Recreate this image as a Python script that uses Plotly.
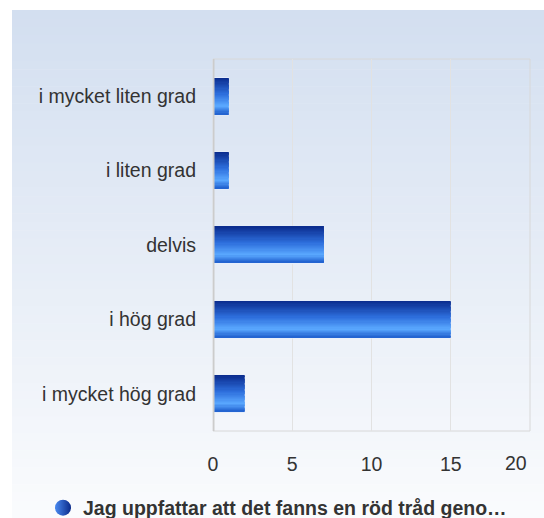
import plotly.graph_objects as go

categories = ["i mycket liten grad", "i liten grad", "delvis", "i hög grad", "i mycket hög grad"]
values = [1, 1, 7, 15, 2]
x_ticks = [0, 5, 10, 15, 20]
series_name = "Jag uppfattar att det fanns en röd tråd geno…"

W, H = 544, 518
L, R, T, B = 213, 530, 59, 431  # plot area in px

def px_x(p):
    return (p - L) / (R - L)

def px_y(p):
    return (B - p) / (B - T)

def lerp(c1, c2, t):
    return tuple(round(a + (b - a) * t) for a, b in zip(c1, c2))

def hexc(c):
    return "#%02x%02x%02x" % c

fig = go.Figure()

stops = [(0.0, (10, 42, 140)), (0.45, (45, 110, 220)), (0.78, (90, 168, 255)), (1.0, (30, 94, 205))]
def grad(t):
    for (t0, c0), (t1, c1) in zip(stops, stops[1:]):
        if t0 <= t <= t1:
            return lerp(c0, c1, (t - t0) / (t1 - t0))
    return stops[-1][1]

bw = 0.485
N = 30
fig.add_trace(go.Bar(y=categories, x=values, orientation="h", width=bw + 0.03, offset=-(bw + 0.03) / 2,
                     marker=dict(color="#e6eefc", line=dict(width=0)), showlegend=False, hoverinfo="skip"))
for i in range(N):
    t = (i + 0.5) / N
    fig.add_trace(go.Bar(y=categories, x=values, orientation="h", width=bw / N * 1.05,
                         offset=-bw / 2 + i * bw / N,
                         marker=dict(color=hexc(grad(t)), line=dict(width=0)),
                         showlegend=False, hoverinfo="skip"))

fig.add_trace(go.Scatter(x=[None], y=[None], mode="markers", name="<b>" + series_name + "</b>",
                         marker=dict(symbol="circle", size=18, color="#4a8af0",
                                     gradient=dict(type="horizontal", color="#0a2a8a"),
                                     line=dict(width=0))))

shapes = []
x0, x1 = px_x(12), px_x(W)
top_c, bot_c = (211, 223, 240), (250, 251, 253)
NS = 60
y_top, y_bot = 10, H
for i in range(NS):
    a = y_top + (y_bot - y_top) * i / NS
    b = min(y_top + (y_bot - y_top) * (i + 1) / NS + 0.6, H)
    shapes.append(dict(type="rect", xref="paper", yref="paper", x0=x0, x1=x1, y0=px_y(b), y1=px_y(a),
                       fillcolor=hexc(lerp(top_c, bot_c, i / (NS - 1))), line=dict(width=0), layer="below"))
shapes.append(dict(type="rect", xref="paper", yref="paper", x0=0, x1=1, y0=0, y1=1,
                   line=dict(color="#d8d8d8", width=1), layer="below"))

tick_text = [str(v) for v in x_ticks[:-1]] + [""]
FS = 19.5

fig.update_layout(
    width=W, height=H,
    margin=dict(l=L, r=W - R, t=T, b=H - B, autoexpand=False),
    paper_bgcolor="white", plot_bgcolor="rgba(0,0,0,0)",
    barmode="overlay",
    font=dict(family="Liberation Sans, Arial, sans-serif", size=FS, color="#333333"),
    shapes=shapes,
    showlegend=True,
    legend=dict(orientation="h", x=px_x(43), y=px_y(508), xanchor="left", yanchor="middle",
                font=dict(size=19.5, color="#333333", family="Liberation Sans, Arial, sans-serif"),
                bgcolor="rgba(0,0,0,0)", itemwidth=30),
    xaxis=dict(range=[0, 20], tickvals=x_ticks, ticktext=tick_text, showgrid=True, gridcolor="#e2e2e2",
               gridwidth=1, zeroline=False, showline=False, ticks="", ticklabelstandoff=19,
               automargin=False),
    yaxis=dict(autorange="reversed", showgrid=False, zeroline=False, showline=False, ticks="",
               ticklabelstandoff=16, automargin=False),
)
# last x tick label kept inside the chart edge, as in the original
fig.add_annotation(x=x_ticks[-1], y=0, xref="x", yref="paper", text=str(x_ticks[-1]), showarrow=False,
                   xanchor="right", yanchor="top", xshift=-1, yshift=-19,
                   font=dict(size=FS, color="#333333"))
fig.add_shape(type="line", xref="x", yref="paper", x0=0, x1=0, y0=0, y1=1,
              line=dict(color="#cccccc", width=3), layer="above")

fig.write_html("out.html", config={"displayModeBar": False},
               post_script="document.body.style.margin='0';document.documentElement.style.overflow='hidden';")
